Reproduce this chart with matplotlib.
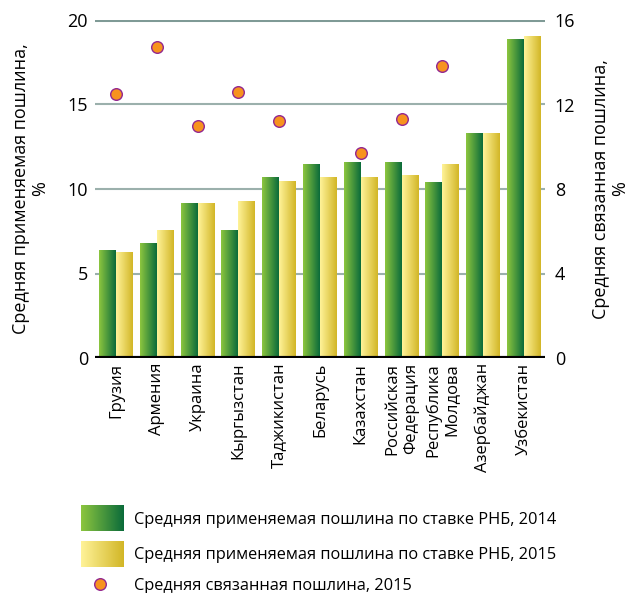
import numpy as np
import matplotlib
matplotlib.use("Agg")
import matplotlib.pyplot as plt
from matplotlib.colors import LinearSegmentedColormap

plt.rcParams['font.family'] = ['Open Sans', 'DejaVu Sans']

countries = ['Грузия', 'Армения', 'Украина', 'Кыргызстан', 'Таджикистан', 'Беларусь',
             'Казахстан', 'Российская\nФедерация', 'Республика\nМолдова',
             'Азербайджан', 'Узбекистан']
applied_2014 = [6.4, 6.8, 9.2, 7.6, 10.7, 11.5, 11.6, 11.6, 10.4, 13.3, 18.85]
applied_2015 = [6.3, 7.6, 9.2, 9.3, 10.5, 10.7, 10.7, 10.8, 11.5, 13.3, 19.05]
# bound tariff, right axis (0-16)
bound_2015 = [12.5, 14.7, 11.0, 12.6, 11.2, np.nan, 9.7, 11.3, 13.8, np.nan, np.nan]

left_ticks = [0, 5, 10, 15, 20]
right_ticks = [0, 4, 8, 12, 16]

lbl_2014 = 'Средняя применяемая пошлина по ставке РНБ, 2014'
lbl_2015 = 'Средняя применяемая пошлина по ставке РНБ, 2015'
lbl_bound = 'Средняя связанная пошлина, 2015'

green = LinearSegmentedColormap.from_list('g', ['#8dc63f', '#0a6b3a'])
yellow = LinearSegmentedColormap.from_list('y', ['#fff399', '#d2b626'])
grad = np.linspace(0, 1, 256).reshape(1, -1)

fig = plt.figure(figsize=(6.3, 5.93), dpi=100)
ax = fig.add_axes([95 / 630, 1 - 358 / 593, 450 / 630, 338 / 593])

x = np.arange(len(countries))
w = 0.416


def gradient_bars(xpos, vals, cmap):
    bars = ax.bar(xpos, vals, w, facecolor='none', edgecolor='none', zorder=2)
    for b in bars:
        x0, y0 = b.get_x(), b.get_y()
        im = ax.imshow(grad, cmap=cmap, aspect='auto', zorder=2,
                       extent=[x0, x0 + b.get_width(), y0, y0 + b.get_height()])
        im.set_clip_path(b)


gradient_bars(x - w / 2, applied_2014, green)
gradient_bars(x + w / 2, applied_2015, yellow)

ax.set_xlim(-0.514, len(countries) - 1 + 0.514)
ax.set_ylim(0, 20)
ax.set_yticks(left_ticks)
for t in left_ticks[1:]:
    ax.axhline(t, color='#7f9a96' if t == 20 else '#9bb0ac',
               lw=2.2 if t == 20 else 1.5, zorder=1)
ax.axhline(0, color='black', lw=3, zorder=3)
for s in ax.spines.values():
    s.set_visible(False)
ax.tick_params(axis='both', length=0)
ax.tick_params(axis='y', pad=5, labelsize=13)
ax.set_xticks(x)
ax.set_xticklabels(countries, rotation=90, ha='center', va='top',
                   multialignment='right', fontsize=12)
ax.set_ylabel('Средняя применяемая пошлина,\n%', fontsize=13, labelpad=13,
              linespacing=1.1)

ax2 = ax.twinx()
ax2.set_ylim(0, 16)
ax2.set_yticks(right_ticks)
ax2.scatter(x, bound_2015, s=70, color='#f7931e', edgecolor='#93278f',
            linewidth=1.0, zorder=5)
for s in ax2.spines.values():
    s.set_visible(False)
ax2.tick_params(axis='y', length=0, labelsize=13, pad=7)
ax2.set_ylabel('Средняя связанная пошлина,\n%', fontsize=13, labelpad=12,
               linespacing=1.1)

# legend
lg = fig.add_axes([0, 0, 1, 1], zorder=-1)
lg.axis('off')
lg.imshow(grad, cmap=green, aspect='auto', extent=[81, 124, 531, 505])
lg.imshow(grad, cmap=yellow, aspect='auto', extent=[81, 124, 567, 541])
lg.scatter([100], [584], s=70, color='#f7931e', edgecolor='#93278f', linewidth=1.0)
lg.set_xlim(0, 630)
lg.set_ylim(593, 0)
for ty, txt in zip([520, 555, 586], [lbl_2014, lbl_2015, lbl_bound]):
    lg.text(134, ty, txt, fontsize=11.8, va='center', ha='left')

fig.savefig('out.png', dpi=100)
